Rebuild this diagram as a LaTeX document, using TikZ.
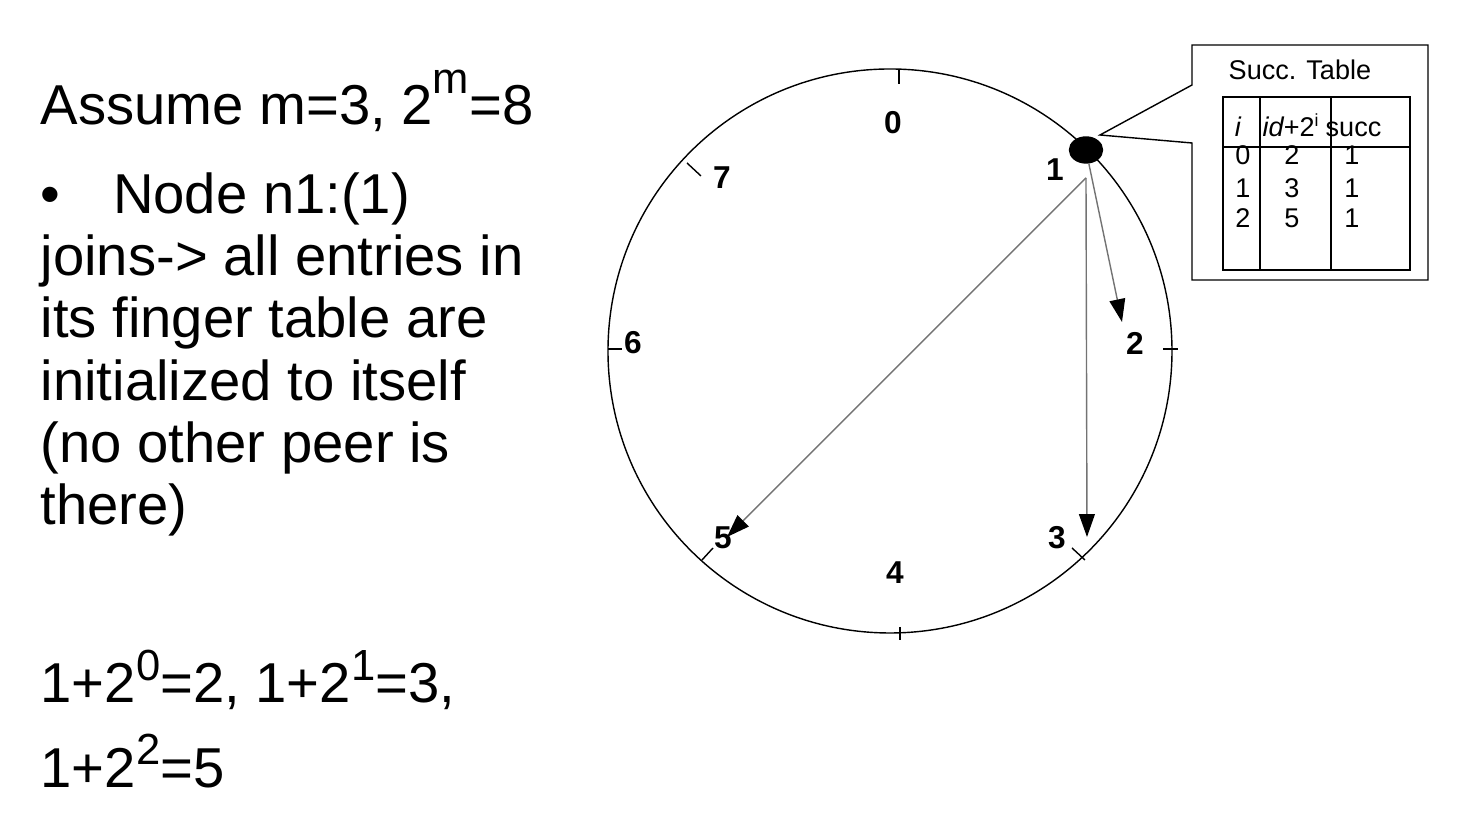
\documentclass[tikz,border=0pt]{standalone}
\usepackage{fontspec}
\setmainfont{Liberation Sans}
\usetikzlibrary{arrows.meta,shapes.geometric}

\tikzset{
  ringlbl/.style={font=\fontsize{9}{9}\selectfont\bfseries, inner sep=0pt},
  finger/.style={draw=black!55, -{Triangle[length=6.5pt,width=4.5pt,color=black]}},
  tbltxt/.style={font=\fontsize{7.7}{7.7}\selectfont, inner sep=0pt, anchor=base}
}
\newcommand\sups[2]{\raisebox{#1}{\fontsize{12.4}{12.4}\selectfont #2}}

\begin{document}
\begin{tikzpicture}
	\useasboundingbox (0,0) rectangle (14.68,-8.24);

	% left text
	\node[anchor=base west, inner sep=0pt, font=\fontsize{16}{17.7}\selectfont] (assume) at (0.40,-1.25) {Assume m=3, 2\sups{9pt}{m}=8};
	\node[anchor=north west, align=left, inner sep=0pt, font=\fontsize{16}{17.7}\selectfont] (notes) at (0.40,-1.72)
		{\textbullet\hspace{15pt}Node n1:(1)\\joins-> all entries in\\its finger table are\\initialized to itself\\(no other peer is\\there)};
	\node[anchor=north west, align=left, inner sep=0pt, font=\fontsize{16}{24.1}\selectfont] (sums) at (0.40,-6.49)
		{1+2\sups{6.5pt}{0}=2, 1+2\sups{6.5pt}{1}=3,\\1+2\sups{6.5pt}{2}=5};

	% ring
	\coordinate (c) at (8.90,-3.51);
	\draw (c) circle (2.82);

	\draw (8.99,-0.70) -- (8.99,-0.84);
	\draw (11.63,-3.49) -- (11.78,-3.49);
	\draw (9.00,-6.27) -- (9.00,-6.40);
	\draw (6.08,-3.49) -- (6.22,-3.49);
	\draw (6.87,-1.63) -- (7.01,-1.76);
	\draw (10.72,-5.48) -- (10.85,-5.60);
	\draw (7.02,-5.60) -- (7.13,-5.48);

	\node[ringlbl] (l0) at (8.93,-1.23) {0};
	\node[ringlbl] (l1) at (10.55,-1.70) {1};
	\node[ringlbl] (l2) at (11.35,-3.43) {2};
	\node[ringlbl] (l3) at (10.57,-5.38) {3};
	\node[ringlbl] (l4) at (8.95,-5.73) {4};
	\node[ringlbl] (l5) at (7.23,-5.38) {5};
	\node[ringlbl] (l6) at (6.33,-3.43) {6};
	\node[ringlbl] (l7) at (7.22,-1.78) {7};

	% peer 1 and its fingers
	\node[ellipse, fill, draw, minimum width=0.33cm, minimum height=0.26cm, inner sep=0pt] (p1) at (10.86,-1.50) {};
	\coordinate (s1) at (10.86,-1.78);
	\coordinate (t2) at (11.22,-3.22);
	\coordinate (t3) at (10.87,-5.37);
	\coordinate (t5) at (7.27,-5.37);
	\draw[finger] (p1) -- (t2);
	\draw[finger] (s1) -- (t3);
	\draw[finger] (s1) -- (t5);

	% callout with the table
	\draw (11.92,-0.85) -- (11.92,-0.45) -- (14.28,-0.45) -- (14.28,-2.80) -- (11.92,-2.80) -- (11.92,-1.43) -- (11.00,-1.35) -- cycle;
	\draw (12.23,-0.97) rectangle (14.10,-2.70);
	\draw (12.23,-1.47) -- (14.10,-1.47);
	\draw (12.60,-0.97) -- (12.60,-2.70);
	\draw (13.31,-0.97) -- (13.31,-2.70);

	\node[tbltxt, anchor=base west] (ttl) at (12.28,-0.80) {Succ. Table};
	\node[tbltxt] (hi) at (12.38,-1.37) {\itshape i};
	\node[tbltxt, anchor=base west] (hid) at (12.62,-1.37) {\itshape id\upshape+2\raisebox{3pt}{\fontsize{5}{5}\selectfont i}};
	\node[tbltxt, anchor=base west] (hs) at (13.25,-1.37) {succ};
	\foreach \i/\v/\y in {0/2/1.65, 1/3/1.98, 2/5/2.28} {
		\node[tbltxt] (ri\i) at (12.43,-\y) {\i};
		\node[tbltxt] (rv\i) at (12.92,-\y) {\v};
		\node[tbltxt] (rs\i) at (13.52,-\y) {1};
	}
\end{tikzpicture}
\end{document}
